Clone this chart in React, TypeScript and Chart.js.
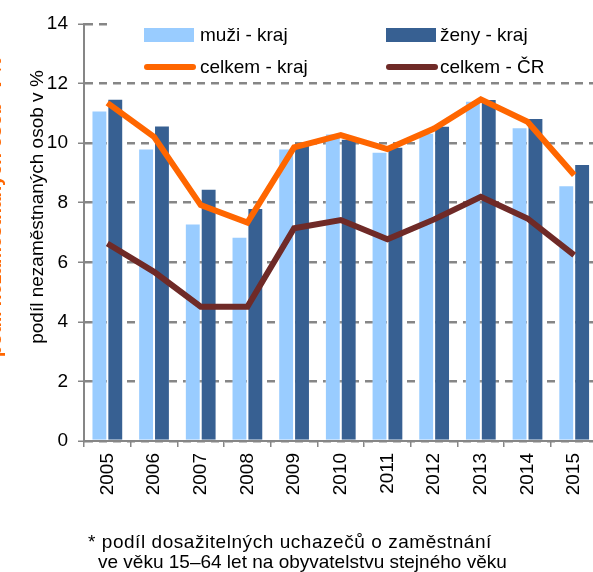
import React, { useEffect, useRef } from "react";
import { Chart, registerables } from "chart.js";

Chart.register(...registerables);

const years = ["2005", "2006", "2007", "2008", "2009", "2010", "2011", "2012", "2013", "2014", "2015"];
const muziKraj = [11.1, 9.82, 7.3, 6.86, 9.82, 10.32, 9.71, 10.35, 11.42, 10.53, 8.59];
const zenyKraj = [11.49, 10.59, 8.47, 7.82, 10.02, 10.15, 9.88, 10.58, 11.48, 10.84, 9.3];
const celkemKraj = [11.35, 10.21, 7.92, 7.33, 9.86, 10.27, 9.8, 10.49, 11.47, 10.72, 8.93];
const celkemCR = [6.63, 5.68, 4.51, 4.51, 7.14, 7.42, 6.77, 7.44, 8.2, 7.47, 6.24];
const seriesLabels = ["muži - kraj", "ženy - kraj", "celkem - kraj", "celkem - ČR"];
const yMin = 0;
const yMax = 14;
const yStep = 2;
const yTitle = "podíl nezaměstnaných osob v %";
const ySecondTitle = "podíl nezaměstnaných osob* v %";
const footnoteLines = [
  "* podíl dosažitelných uchazečů o zaměstnání",
  "ve věku 15–64 let na obyvatelstvu stejného věku",
];

const FONT = "'Liberation Sans', Arial, sans-serif";
const GRID = "#868686";

const insideLegend = {
  id: "insideLegend",
  beforeDatasetsDraw(chart: any) {
    const ctx = chart.ctx as CanvasRenderingContext2D;
    const ds = chart.data.datasets;
    ctx.save();
    ctx.fillStyle = "#ffffff";
    ctx.fillRect(112, 16, 500, 62);
    const slots = [
      { i: 0, x: 144, y: 35, tx: 200 },
      { i: 1, x: 386, y: 35, tx: 440 },
      { i: 2, x: 144, y: 67, tx: 200 },
      { i: 3, x: 386, y: 67, tx: 440 },
    ];
    for (const s of slots) {
      const d = ds[s.i];
      if (d.type === "line") {
        ctx.strokeStyle = d.borderColor;
        ctx.lineWidth = 6;
        ctx.lineCap = "round";
        ctx.beginPath();
        ctx.moveTo(s.x + 3, s.y);
        ctx.lineTo(s.x + 49, s.y);
        ctx.stroke();
      } else {
        ctx.fillStyle = d.backgroundColor;
        ctx.fillRect(s.x, s.y - 7, 50, 14);
      }
      ctx.fillStyle = "#000";
      ctx.font = `19px ${FONT}`;
      ctx.textAlign = "left";
      ctx.textBaseline = "middle";
      ctx.fillText(d.label, s.tx, s.y + 1);
    }
    ctx.restore();
  },
};

const sideTitles = {
  id: "sideTitles",
  afterDraw(chart: any) {
    const ctx = chart.ctx as CanvasRenderingContext2D;
    ctx.save();
    ctx.textAlign = "center";
    ctx.textBaseline = "alphabetic";
    ctx.translate(43, 207);
    ctx.rotate(-Math.PI / 2);
    ctx.fillStyle = "#000";
    ctx.font = `19px ${FONT}`;
    ctx.fillText(yTitle, 0, 0);
    ctx.restore();
    ctx.save();
    ctx.textAlign = "center";
    ctx.textBaseline = "alphabetic";
    ctx.translate(1, 207);
    ctx.rotate(-Math.PI / 2);
    ctx.fillStyle = "#FF6600";
    ctx.font = `bold 19px ${FONT}`;
    ctx.fillText(ySecondTitle, 0, 0);
    ctx.restore();
  },
};

export default function App() {
  const ref = useRef<HTMLCanvasElement | null>(null);
  useEffect(() => {
    document.body.style.margin = "0";
    document.body.style.overflow = "hidden";
    const canvas = ref.current!;
    const chart = new Chart(canvas, {
      type: "bar",
      data: {
        labels: years,
        datasets: [
          {
            type: "bar",
            label: seriesLabels[0],
            data: muziKraj,
            backgroundColor: "#99CCFF",
            borderColor: "rgba(255,255,255,0.2)",
            borderWidth: 1,
            order: 2,
            categoryPercentage: 0.68,
            barPercentage: 1.0,
          } as any,
          {
            type: "bar",
            label: seriesLabels[1],
            data: zenyKraj,
            backgroundColor: "#376092",
            borderColor: "rgba(255,255,255,0.15)",
            borderWidth: 1,
            order: 2,
            categoryPercentage: 0.68,
            barPercentage: 1.0,
          } as any,
          {
            type: "line",
            label: seriesLabels[2],
            data: celkemKraj,
            borderColor: "#FF6600",
            backgroundColor: "#FF6600",
            borderWidth: 6,
            pointRadius: 0,
            tension: 0,
            order: 1,
          } as any,
          {
            type: "line",
            label: seriesLabels[3],
            data: celkemCR,
            borderColor: "#6F2A27",
            backgroundColor: "#6F2A27",
            borderWidth: 6,
            pointRadius: 0,
            tension: 0,
            order: 1,
          } as any,
        ],
      },
      options: {
        animation: false,
        responsive: false,
        maintainAspectRatio: false,
        layout: { padding: { left: 0, right: 0, top: 24, bottom: 0 } },
        plugins: {
          legend: { display: false },
          tooltip: { enabled: false },
          title: { display: false },
        },
        scales: {
          x: {
            grid: {
              drawOnChartArea: false,
              drawTicks: true,
              tickLength: 6,
              color: GRID,
              lineWidth: 1.5,
              offset: true,
            },
            border: { color: GRID, width: 2 },
            ticks: {
              font: { size: 19, family: FONT },
              color: "#000",
              minRotation: 90,
              maxRotation: 90,
              autoSkip: false,
              padding: 6,
            },
            afterFit: (s: any) => {
              s.height = 131;
            },
          },
          y: {
            min: yMin,
            max: yMax,
            ticks: {
              stepSize: yStep,
              font: { size: 19, family: FONT },
              color: "#000",
              padding: 10,
            },
            grid: {
              color: GRID,
              lineWidth: 2.5,
              tickLength: 6,
              tickColor: GRID,
              tickWidth: 1.5,
            },
            border: { color: GRID, width: 2, dash: [8, 6] },
            afterFit: (s: any) => {
              s.width = 84;
            },
          },
        },
      },
      plugins: [insideLegend, sideTitles],
    });
    return () => chart.destroy();
  }, []);

  return (
    <div
      style={{
        position: "fixed",
        left: 0,
        top: 0,
        width: 593,
        height: 572,
        overflow: "hidden",
        background: "#fff",
      }}
    >
      <canvas ref={ref} width={603} height={572} style={{ width: 603, height: 572, display: "block" }} />
      <div
        style={{
          position: "absolute",
          left: 88,
          top: 532,
          fontFamily: FONT,
          fontSize: 19,
          lineHeight: "20px",
          color: "#000",
          whiteSpace: "nowrap",
          letterSpacing: "0.55px",
        }}
      >
        {footnoteLines[0]}
      </div>
      <div
        style={{
          position: "absolute",
          left: 98,
          top: 552,
          fontFamily: FONT,
          fontSize: 19,
          lineHeight: "20px",
          color: "#000",
          whiteSpace: "nowrap",
        }}
      >
        {footnoteLines[1]}
      </div>
    </div>
  );
}
